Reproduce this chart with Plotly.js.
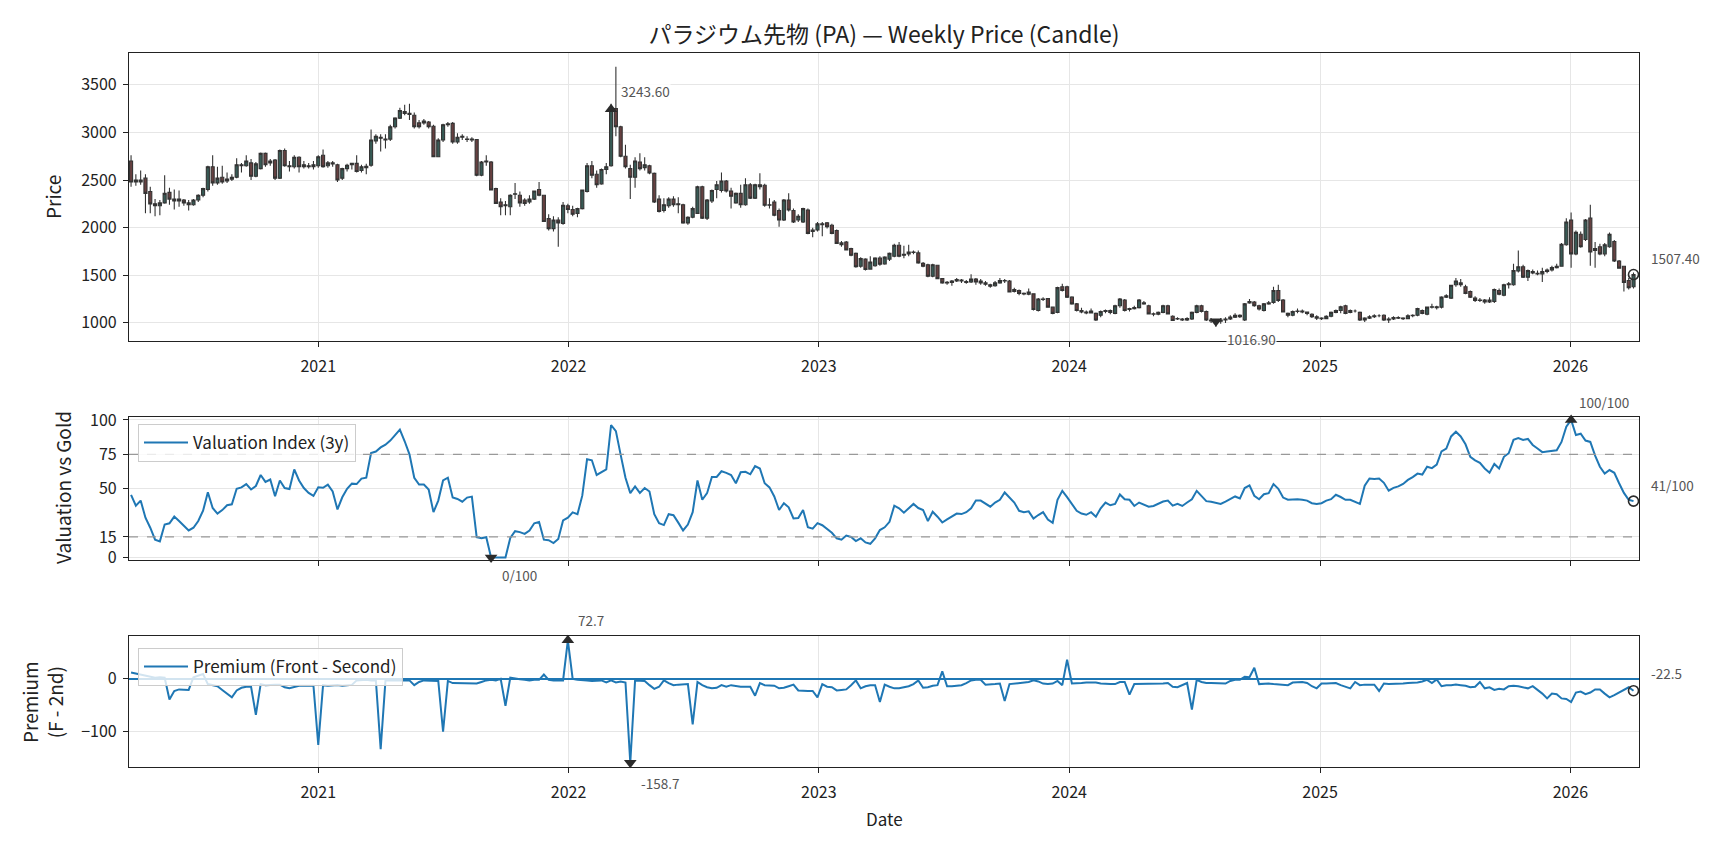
<!DOCTYPE html>
<html>
<head>
<meta charset="utf-8">
<script src="https://cdn.plot.ly/plotly-3.0.1.min.js"></script>
<style>html,body{margin:0;padding:0;background:#fff;}#chart{width:1728px;height:849px;}</style>
</head>
<body>
<div id="chart"></div>
<script>
// ---------------- DATA (weekly) ----------------
const firstWeek = [2020, 3, 3]; // 2020-04-03, weekly steps
const tickYears = ['2021', '2022', '2023', '2024', '2025', '2026'];
const priceTicks = [1000, 1500, 2000, 2500, 3000, 3500];
const valuationTicks = [0, 15, 50, 75, 100];
const premiumTicks = [-100, 0];
const valuationBands = [75, 15];

const openPx = [
2700,2480,2500,2520,2380,2250,2230,2260,2370,2300,
2280,2290,2260,2240,2290,2340,2400,2640,2470,2530,
2490,2510,2530,2660,2650,2680,2540,2620,2780,2680,
2710,2520,2810,2650,2640,2740,2640,2650,2640,2650,
2760,2650,2680,2660,2520,2620,2660,2675,2600,2630,
2655,2910,2950,2930,2930,3060,3150,3220,3200,3180,
3100,3100,3110,3065,2745,2920,3080,3095,2900,2950,
2930,2930,2925,2550,2690,2690,2410,2270,2230,2220,
2350,2340,2290,2270,2300,2400,2340,2095,1990,2080,
2045,2230,2190,2150,2200,2380,2650,2560,2460,2610,
2650,3250,3060,2750,2620,2530,2690,2630,2650,2570,
2300,2180,2230,2300,2240,2240,2050,2110,2150,2430,
2100,2280,2400,2390,2490,2385,2260,2360,2240,2450,
2310,2450,2445,2235,2270,2180,2080,2290,2180,2080,
2060,2185,1960,1975,2040,2050,2025,1970,1840,1850,
1780,1730,1595,1670,1565,1600,1680,1620,1670,1700,
1815,1710,1725,1740,1735,1625,1610,1490,1605,1465,
1420,1425,1440,1450,1435,1430,1460,1440,1420,1400,
1390,1420,1445,1440,1330,1340,1310,1300,1305,1130,
1250,1255,1165,1110,1380,1380,1270,1200,1130,1115,
1105,1100,1080,1120,1130,1100,1180,1240,1140,1150,
1160,1210,1180,1095,1090,1110,1180,1070,1040,1040,
1030,1040,1110,1180,1120,1030,1030,1017,1030,1040,
1060,1080,1030,1210,1220,1180,1130,1200,1215,1340,
1240,1100,1080,1120,1125,1115,1090,1065,1050,1045,
1070,1110,1130,1180,1110,1125,1110,1030,1050,1065,
1075,1080,1030,1040,1055,1050,1045,1075,1080,1130,
1090,1165,1170,1165,1270,1260,1400,1420,1380,1330,
1260,1235,1240,1220,1225,1340,1290,1400,1400,1545,
1590,1480,1540,1520,1515,1540,1555,1580,1595,1820,
2080,1725,1930,1875,2100,1760,1800,1725,1800,1855,
1650,1595,1445,1380
];
const highPx = [
2760,2560,2600,2560,2430,2300,2290,2550,2420,2400,
2390,2300,2290,2300,2350,2420,2650,2760,2640,2650,
2580,2560,2730,2680,2760,2720,2690,2790,2790,2720,
2720,2820,2830,2700,2760,2750,2700,2680,2700,2760,
2820,2700,2700,2670,2630,2670,2680,2760,2660,2670,
3030,2980,2980,2980,3080,3160,3260,3290,3300,3210,
3130,3140,3120,3080,2940,3090,3110,3110,2990,2980,
2960,2950,2930,2700,2760,2700,2420,2310,2280,2350,
2470,2380,2310,2340,2390,2480,2345,2140,2120,2110,
2270,2250,2230,2210,2400,2680,2700,2600,2620,2680,
3300,3690,3070,2870,2660,2740,2780,2740,2660,2580,
2340,2310,2320,2330,2320,2250,2120,2220,2440,2440,
2300,2400,2490,2580,2500,2420,2370,2450,2520,2470,
2460,2570,2460,2310,2290,2200,2300,2360,2200,2140,
2210,2200,2000,2060,2060,2060,2040,1980,1860,1860,
1790,1740,1690,1680,1700,1690,1700,1700,1740,1830,
1850,1810,1820,1760,1760,1640,1620,1620,1610,1470,
1440,1450,1470,1460,1450,1510,1470,1460,1440,1410,
1440,1470,1460,1450,1370,1350,1320,1360,1310,1260,
1270,1260,1170,1380,1410,1390,1280,1210,1160,1130,
1150,1110,1130,1140,1140,1190,1260,1250,1160,1180,
1250,1230,1190,1110,1120,1190,1190,1080,1060,1050,
1060,1120,1190,1190,1130,1050,1040,1050,1060,1080,
1100,1090,1210,1250,1230,1190,1210,1230,1380,1400,
1250,1110,1130,1150,1140,1120,1100,1080,1060,1080,
1120,1140,1180,1190,1140,1140,1120,1060,1080,1090,
1090,1090,1060,1070,1070,1060,1090,1090,1160,1140,
1170,1200,1180,1280,1300,1400,1470,1460,1400,1340,
1280,1260,1250,1270,1360,1360,1410,1430,1620,1760,
1610,1560,1560,1550,1580,1570,1600,1620,1840,2100,
2160,1970,1960,2090,2240,1850,1830,1840,1950,1870,
1660,1600,1470,1530
];
const lowPx = [
2430,2440,2450,2150,2150,2120,2130,2250,2240,2190,
2220,2230,2180,2230,2270,2320,2380,2440,2450,2460,
2470,2490,2520,2580,2640,2500,2530,2610,2640,2650,
2500,2510,2640,2590,2620,2580,2620,2620,2610,2630,
2630,2630,2640,2480,2500,2590,2610,2580,2580,2560,
2640,2880,2800,2830,2910,3040,3140,3180,3130,3040,
3040,3080,3040,2740,2740,2900,3060,2880,2880,2920,
2900,2900,2540,2540,2650,2390,2250,2130,2130,2130,
2300,2220,2230,2250,2290,2330,2060,1970,1960,1800,
2030,2150,2120,2110,2190,2370,2520,2420,2450,2560,
2640,2960,2740,2620,2300,2420,2600,2600,2560,2260,
2160,2160,2210,2220,2150,2040,2030,2100,2150,2090,
2080,2260,2310,2370,2370,2200,2250,2210,2230,2300,
2300,2400,2220,2200,2120,2010,2070,2170,2050,2060,
2050,1930,1900,1960,1910,1990,1930,1830,1800,1760,
1700,1580,1580,1550,1560,1590,1600,1610,1650,1690,
1690,1680,1700,1720,1620,1585,1480,1480,1460,1410,
1400,1390,1430,1420,1410,1420,1400,1400,1390,1370,
1380,1410,1420,1320,1320,1290,1290,1290,1130,1120,
1230,1160,1090,1100,1330,1260,1190,1120,1100,1090,
1100,1020,1060,1100,1090,1090,1160,1120,1120,1140,
1150,1190,1090,1070,1080,1100,1090,1020,1030,1020,
1020,1030,1100,1110,1020,1000,960,990,1000,1030,
1050,1050,1020,1200,1170,1130,1120,1190,1200,1220,
1110,1060,1070,1100,1100,1080,1050,1030,1030,1040,
1060,1100,1100,1090,1100,1110,1020,1010,1040,1050,
1060,1020,1000,1030,1040,1030,1040,1060,1070,1090,
1080,1150,1140,1150,1260,1250,1380,1380,1300,1260,
1220,1220,1200,1210,1210,1290,1280,1360,1390,1530,
1470,1440,1510,1500,1430,1520,1540,1570,1590,1810,
1580,1710,1790,1860,1600,1580,1710,1700,1790,1640,
1570,1330,1350,1360
];
const closePx = [
2480,2500,2480,2360,2250,2230,2260,2360,2300,2280,
2300,2260,2240,2290,2340,2410,2640,2470,2520,2480,
2510,2530,2660,2650,2700,2540,2670,2780,2660,2700,
2520,2810,2650,2640,2740,2640,2660,2640,2660,2745,
2640,2680,2670,2500,2620,2655,2675,2590,2640,2645,
2920,2960,2940,2920,3060,3150,3230,3200,3190,3060,
3060,3120,3060,2745,2920,3080,3090,2900,2950,2960,
2925,2920,2550,2690,2700,2395,2255,2220,2240,2340,
2355,2260,2255,2300,2385,2340,2065,1990,2080,2050,
2235,2190,2140,2200,2395,2650,2550,2450,2610,2640,
3243.6,3060,2750,2640,2530,2700,2620,2660,2575,2270,
2170,2240,2300,2240,2250,2050,2110,2200,2430,2100,
2290,2390,2450,2490,2385,2330,2360,2240,2450,2310,
2450,2430,2235,2240,2130,2080,2290,2185,2060,2120,
2200,1940,1975,2040,2030,2010,1940,1835,1820,1765,
1710,1590,1675,1560,1640,1680,1615,1690,1730,1815,
1700,1720,1745,1745,1630,1595,1490,1610,1465,1420,
1425,1440,1455,1440,1425,1460,1430,1420,1405,1385,
1420,1445,1440,1325,1350,1310,1305,1325,1140,1250,
1245,1165,1100,1370,1340,1270,1200,1130,1115,1105,
1125,1030,1120,1130,1110,1180,1250,1130,1150,1160,
1240,1200,1095,1090,1110,1180,1095,1025,1045,1030,
1045,1110,1180,1120,1030,1020,1016.9,1030,1040,1060,
1080,1065,1200,1225,1180,1145,1200,1210,1340,1235,
1115,1080,1120,1125,1115,1100,1065,1050,1045,1070,
1110,1130,1170,1100,1130,1125,1030,1050,1065,1075,
1075,1030,1040,1055,1050,1045,1075,1080,1150,1100,
1165,1170,1160,1270,1285,1395,1440,1400,1310,1270,
1235,1240,1220,1240,1350,1300,1400,1410,1550,1590,
1480,1550,1525,1515,1540,1555,1580,1595,1825,2060,
1725,1950,1800,2080,1745,1780,1725,1820,1930,1650,
1575,1425,1370,1507.4
];
const valuationIndex = [
45.6,37.7,41.4,29,21.7,13,11.8,24,24.9,29.8,
26.6,23,19.7,21.7,26.6,34,47.5,36,32,34.5,
38,38.7,50,51,53.4,49.5,52,60,55,56.7,
44.6,56,50.5,49.8,64,56,50.5,47,44.8,51,
50.7,53,48,35,43.8,50,53.7,53.4,57.4,58,
75.9,77,80,82,85,89,93,84.5,75,58,
53,53,49.5,33,41.4,56,58,43.6,42.6,40.6,
43.6,44.3,14.8,14,14.8,0,0,0,0,14.3,
19.2,18.5,17.2,19.7,24.9,25.9,13,12.6,10.6,13.5,
27,29,32.8,31.5,45,71.4,70.7,60,61.8,64,
96.3,91.9,74.6,58,46.8,51.7,47,50.5,48,31.5,
24.9,23.6,31.5,30.8,25.4,19.7,24,33,56,42,
46.8,58.6,58.6,62.7,61.5,60,54,62,62.3,60.5,
66.4,64.7,54,51,44.4,34.6,39.5,36.5,28.4,28.7,
34.6,22,21,25,23.5,21,18,14,13,16,
15,12,14,11,10,14,20,22,26,37.7,
35.8,32.6,36,39,36,34.6,26.5,33.3,29.7,25.5,
27.7,30,32,31.6,33,35.8,41.4,41.4,39,37,
40,42,47.3,43.9,40,34,33,33.6,28.4,30.9,
33,27.7,25.2,42,48.5,43.9,39,34,32,31.1,
33,29.7,35.8,40,38,39,45.8,42.4,42,37.5,
40,38.5,37,37.5,39,40.7,41.4,37.7,39,37.5,
40,42.4,48.5,44.9,41,40.5,40,39,40.7,42.4,
44.4,42.9,50.5,52.5,44.9,42.4,46,46.8,53.4,50,
43.6,42,42.4,42.4,42,41.4,39.5,39,39.5,41.4,
42.4,45.6,44,42,42,40.2,39,52.2,57.4,57.1,
57.4,54.3,48.6,50.6,51.7,53.5,56.4,58.5,61,60.3,
66,65,67.5,77.1,79.2,88,91.4,88,82.3,73.2,
70.6,68.8,64.7,61.6,68,64.7,73.2,75.8,85.5,86.8,
85.5,86.2,81.8,79.2,76.6,77.1,77.7,78,84,95,
100,89,90,85,84,74,66,61,63.6,61.6,
54,47,42,41
];
const premium = [
12,10,8,5,3,2,3,2,-39,-23,
-20,-21,-21,3,6,9,-10,-12,-14,-21,
-28,-35,-22,-17,-15,-15,-68,-10,-12,-11,
-11,-11,-16,-18,-15,-13,-13,-13,-13,-125,
-12,-13,-12,-11.5,-13,-12,-11.5,-3,-2,-2,
-3,-3,-133,-3,-3,-3,-4,-3,-3,-12,
-6,-3,-3,-3,-4,-100,-4,-8,-8,-9,
-9,-9,-9,-6,-3,-2,-3,0,-51,2,
0,-1,-2,-3,-2,-2,8,-2,-3,-3,
-3,72.7,0,-2,-2,-3,-4,-3,-3,-7,
-3,-7,-5,-7,-158.7,-3,-3,-4,-12,-19,
-15,-3,-8,-12,-11,-10,-10,-86,-6,-12,
-16,-18,-17,-12,-15,-12,-14,-15,-15,-15,
-32,-8,-12,-12,-13,-18,-17,-14,-11,-22,
-23,-23,-23,-35,-10,-15,-16,-22,-21,-20,
-12,-3,-18,-14,-12,-12,-44,-11,-15,-18,
-18,-16,-14,-10,-3,-17,-16,-13,-12,14,
-14,-14,-13,-12,-8,-3,-2,-2,-11,-11,
-10,-9,-42,-10,-9,-7,-6,-6,-3,-5,
-9,-10,-9,-4,-12,36,-9,-9,-8,-7,
-7,-7,-9,-10,-10,-10,-6,-6,-30,-10,
-10,-10,-10,-9,-9,-9,-8,-15,-16,-12,
-8,-58,-2,-6,-8,-8,-8,-9,-9,-4,
-2,-2,4,3,21,-10,-9,-9,-10,-11,
-12,-12,-7,-6,-6,-8,-14,-18,-9,-9,
-9,-8,-12,-15,-18,-6,-12,-11,-11,-11,
-23,-9,-10,-10,-10,-9,-8,-8,-7,-5,
-2,-8,-1,-14,-12,-12,-11,-12,-13,-16,
-15,-6,-18,-16,-21,-19,-20,-14,-13,-14,
-16,-18,-14,-21,-28,-37,-28,-29,-37,-38,
-44,-26,-24,-29,-26,-20,-20,-28,-35,-31,
-26,-21,-16,-22.5
];

// ---------------- helpers ----------------
const t0 = Date.UTC(firstWeek[0], firstWeek[1], firstWeek[2]);
const dates = closePx.map((_, i) => new Date(t0 + i * 7 * 86400000).toISOString().slice(0, 10));
const tickDates = tickYears.map(y => y + '-01-01');
function argMax(a) { let k = 0; a.forEach((v, i) => { if (v > a[k]) k = i; }); return k; }
function argMin(a) { let k = 0; a.forEach((v, i) => { if (v < a[k]) k = i; }); return k; }
const last = closePx.length - 1;

const FONT = '"Noto Sans CJK JP", "Noto Sans", sans-serif';
const W = 1728, H = 849;
const px = v => v / W, py = v => 1 - v / H;
const xDomain = [px(129), px(1639)];
const xRange = ['2020-03-31', '2026-04-11'];
const BLUE = '#1f77b4';
const MARK = '#2b2b2b';

const axisBase = {
  showline: true, linecolor: '#222', linewidth: 1.2, mirror: true,
  ticks: 'outside', ticklen: 5, tickwidth: 1.2, tickcolor: '#222',
  showgrid: true, gridcolor: '#e6e6e6', gridwidth: 1, zeroline: false,
  tickfont: { size: 16, color: '#222' }
};
const xBase = Object.assign({}, axisBase, {
  type: 'date', range: xRange, domain: xDomain,
  tickmode: 'array', tickvals: tickDates, ticktext: tickYears, ticklabelstandoff: 6
});

const traces = [];
traces.push({
  type: 'candlestick', x: dates, open: openPx, high: highPx, low: lowPx, close: closePx,
  xaxis: 'x', yaxis: 'y', showlegend: false, hoverinfo: 'skip', whiskerwidth: 0,
  increasing: { line: { color: '#333333', width: 1.1 }, fillcolor: '#375a55' },
  decreasing: { line: { color: '#333333', width: 1.1 }, fillcolor: '#664040' }
});
const pMax = argMax(closePx), pMin = argMin(closePx);
function markers(xa, ya, idx, ys, sym) {
  return { type: 'scatter', mode: 'markers', x: [dates[idx]], y: [ys[idx]], xaxis: xa, yaxis: ya,
    showlegend: false, hoverinfo: 'skip', cliponaxis: false,
    marker: sym === 'circle-open'
      ? { symbol: 'circle-open', size: 10, color: MARK, line: { width: 1.6, color: MARK } }
      : { symbol: sym, size: 11, color: MARK } };
}
traces.push(markers('x', 'y', pMax, closePx, 'triangle-up'));
traces.push(markers('x', 'y', pMin, closePx, 'triangle-down'));
traces.push(markers('x', 'y', last, closePx, 'circle-open'));

traces.push({ type: 'scatter', mode: 'lines', x: dates, y: valuationIndex, xaxis: 'x2', yaxis: 'y2',
  name: 'Valuation Index (3y)', legend: 'legend', line: { color: BLUE, width: 2 }, hoverinfo: 'skip' });
const vMax = argMax(valuationIndex), vMin = argMin(valuationIndex);
traces.push(markers('x2', 'y2', vMax, valuationIndex, 'triangle-up'));
traces.push(markers('x2', 'y2', vMin, valuationIndex, 'triangle-down'));
traces.push(markers('x2', 'y2', last, valuationIndex, 'circle-open'));

traces.push({ type: 'scatter', mode: 'lines', x: dates, y: premium, xaxis: 'x3', yaxis: 'y3',
  name: 'Premium (Front - Second)', legend: 'legend2', line: { color: BLUE, width: 2 }, hoverinfo: 'skip' });
const qMax = argMax(premium), qMin = argMin(premium);
traces.push(markers('x3', 'y3', qMax, premium, 'triangle-up'));
traces.push(markers('x3', 'y3', qMin, premium, 'triangle-down'));
traces.push(markers('x3', 'y3', last, premium, 'circle-open'));

function note(xa, ya, idx, ys, text, dx, dy) {
  return { xref: xa, yref: ya, x: dates[idx], y: ys[idx], text: text, showarrow: false,
    xanchor: 'left', yanchor: 'middle', xshift: dx, yshift: dy,
    font: { size: 13.5, color: '#555' }, bgcolor: 'rgba(255,255,255,0.85)', borderpad: 0 };
}
const annotations = [
  note('x', 'y', pMax, closePx, closePx[pMax].toFixed(2), 9, 18),
  note('x', 'y', pMin, closePx, closePx[pMin].toFixed(2), 10, -18),
  note('x', 'y', last, closePx, closePx[last].toFixed(2), 16, 17),
  note('x2', 'y2', vMax, valuationIndex, Math.round(valuationIndex[vMax]) + '/100', 7, 18),
  note('x2', 'y2', vMin, valuationIndex, Math.round(valuationIndex[vMin]) + '/100', 10, -17),
  note('x2', 'y2', last, valuationIndex, Math.round(valuationIndex[last]) + '/100', 16, 16),
  note('x3', 'y3', qMax, premium, premium[qMax].toFixed(1), 9, 20),
  note('x3', 'y3', qMin, premium, premium[qMin].toFixed(1), 10, -20),
  note('x3', 'y3', last, premium, premium[last].toFixed(1), 16, 18),
  { xref: 'paper', yref: 'paper', x: px(52), y: py(197), text: 'Price', textangle: -90, showarrow: false,
    xanchor: 'center', yanchor: 'middle', font: { size: 19, color: '#222' } },
  { xref: 'paper', yref: 'paper', x: px(62), y: py(488), text: 'Valuation vs Gold', textangle: -90, showarrow: false,
    xanchor: 'center', yanchor: 'middle', font: { size: 19, color: '#222' } },
  { xref: 'paper', yref: 'paper', x: px(42), y: py(702), text: 'Premium<br>(F - 2nd)', textangle: -90, showarrow: false,
    xanchor: 'center', yanchor: 'middle', font: { size: 19, color: '#222' } },
  { xref: 'paper', yref: 'paper', x: px(884), y: py(818), text: 'Date', showarrow: false,
    xanchor: 'center', yanchor: 'middle', font: { size: 17, color: '#222' } }
];

const shapes = valuationBands.map(v => ({ type: 'line', xref: 'x2 domain', x0: 0, x1: 1, yref: 'y2', y0: v, y1: v,
  layer: 'above', line: { color: '#999', width: 1.3, dash: 'dash' } }));

const legendBase = { xanchor: 'left', yanchor: 'top', bgcolor: 'rgba(255,255,255,0.8)',
  bordercolor: '#cccccc', borderwidth: 1, font: { size: 17, color: '#222' }, itemwidth: 44 };

const layout = {
  width: W, height: H, margin: { l: 0, r: 0, t: 0, b: 0 },
  paper_bgcolor: '#ffffff', plot_bgcolor: '#ffffff',
  font: { family: FONT, size: 16, color: '#222' },
  showlegend: true, boxgap: 0.2, boxgroupgap: 0.2,
  title: { text: 'パラジウム先物 (PA) — Weekly Price (Candle)', x: px(884), xanchor: 'center',
    y: py(35), yanchor: 'middle', font: { size: 23, color: '#222' } },
  xaxis: Object.assign({}, xBase, { anchor: 'y', rangeslider: { visible: false } }),
  xaxis2: Object.assign({}, xBase, { anchor: 'y2', showticklabels: false }),
  xaxis3: Object.assign({}, xBase, { anchor: 'y3' }),
  yaxis: Object.assign({}, axisBase, { domain: [py(340.5), py(53)], range: [815, 3834],
    tickmode: 'array', tickvals: priceTicks, ticklabelstandoff: 3 }),
  yaxis2: Object.assign({}, axisBase, { domain: [py(559.8), py(416.6)], range: [-1.6, 102.4],
    tickmode: 'array', tickvals: valuationTicks, ticklabelstandoff: 3 }),
  yaxis3: Object.assign({}, axisBase, { domain: [py(767), py(635.9)], range: [-166.7, 81.1],
    tickmode: 'array', tickvals: premiumTicks, ticklabelstandoff: 3,
    zeroline: true, zerolinecolor: BLUE, zerolinewidth: 1.5 }),
  legend: Object.assign({}, legendBase, { x: px(138), y: py(424) }),
  legend2: Object.assign({}, legendBase, { x: px(138), y: py(648) }),
  annotations: annotations, shapes: shapes
};

Plotly.newPlot('chart', traces, layout, { displayModeBar: false });
</script>
</body>
</html>
